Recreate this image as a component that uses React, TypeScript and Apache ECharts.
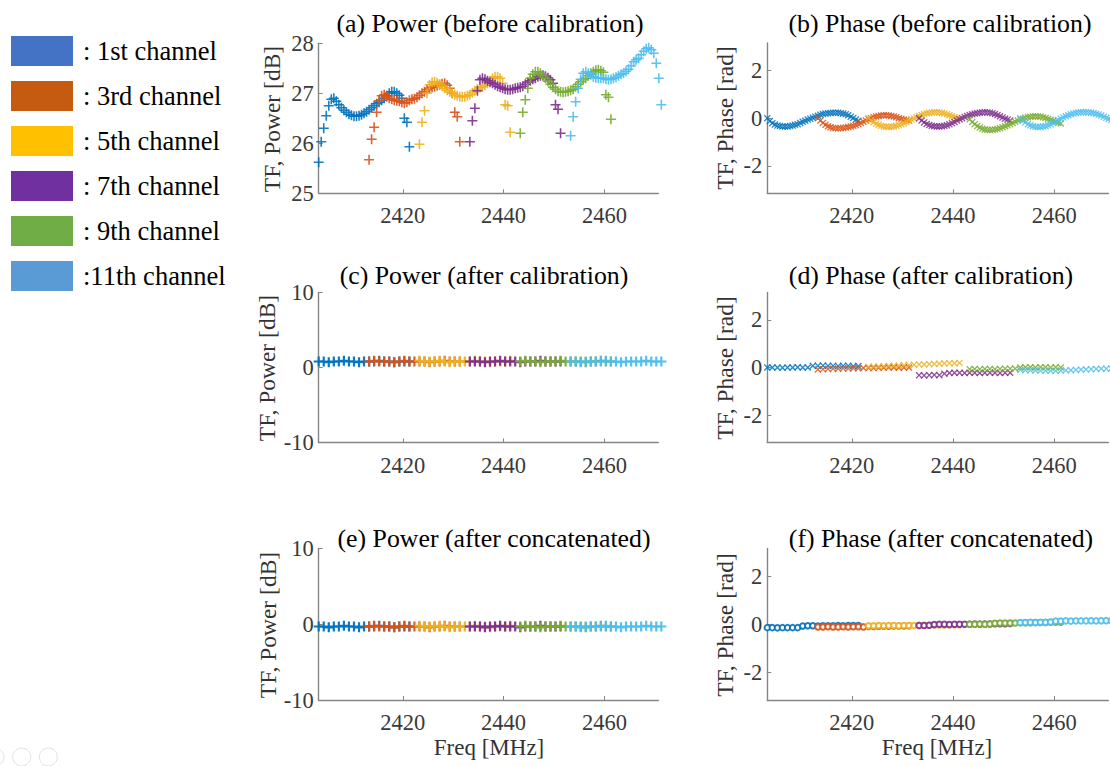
import React, { useEffect, useRef } from "react";
import * as echarts from "echarts";

const FONT = "'Liberation Serif', 'Times New Roman', serif";

const CHANNELS = [": 1st channel", ": 3rd channel", ": 5th channel", ": 7th channel", ": 9th channel", ":11th channel"];
const CH_START = [2403.3, 2413.3, 2423.3, 2433.3, 2443.3, 2453.3];
const FINE_STEP = 0.5;
const COARSE_STEP = 1;
const DATA_COLORS = ["#0072BD", "#D95319", "#EDB120", "#7E2F8E", "#77AC30", "#4DBEEE"];
const LEGEND_COLORS = ["#4472C4", "#C55A11", "#FFC000", "#7030A0", "#70AD47", "#5B9BD5"];
const FREQ_RANGE = [2403.3, 2470.7];
const FREQ_TICKS = [2420, 2440, 2460];
const PHASE_TICKS = [-2, 0, 2];

const PANEL_TITLES = [
  "(a) Power (before calibration)",
  "(b) Phase (before calibration)",
  "(c) Power (after calibration)",
  "(d) Phase (after calibration)",
  "(e) Power (after concatenated)",
  "(f) Phase (after concatenated)",
];
const Y_NAMES = ["TF, Power [dB]", "TF, Phase [rad]", "TF, Power [dB]", "TF, Phase [rad]", "TF, Power [dB]", "TF, Phase [rad]"];
const X_NAME = "Freq [MHz]";

// (a) power before calibration, 0.5 MHz step
const POWER_BEFORE = [
  [25.62, 26.03, 26.3, 26.55, 26.75, 26.88, 26.9, 26.84, 26.77, 26.71, 26.66, 26.62, 26.58, 26.56, 26.54, 26.54, 26.55, 26.57, 26.6, 26.63, 26.67, 26.71, 26.75, 26.79, 26.82, 26.86, 26.9, 26.95, 27.0, 27.03, 27.03, 27.0, 26.96, 26.9, 26.5, 26.42, 25.93],
  [25.67, 26.08, 26.32, 26.62, 26.85, 26.95, 26.97, 26.93, 26.9, 26.88, 26.86, 26.85, 26.84, 26.82, 26.8, 26.82, 26.86, 26.88, 26.89, 26.92, 26.96, 27.0, 27.03, 27.07, 27.1, 27.12, 27.13, 27.15, 27.17, 27.19, 27.2, 27.16, 27.1, 27.0, 26.62, 26.53, 26.03],
  [25.98, 26.42, 26.65, 27.0, 27.17, 27.22, 27.23, 27.21, 27.18, 27.14, 27.1, 27.06, 27.03, 27.0, 26.97, 26.95, 26.93, 26.93, 26.93, 26.95, 26.97, 27.01, 27.05, 27.08, 27.11, 27.13, 27.16, 27.2, 27.25, 27.3, 27.33, 27.33, 27.3, 27.2, 26.77, 26.75, 26.22],
  [26.03, 26.45, 26.7, 27.05, 27.27, 27.3, 27.28, 27.25, 27.22, 27.2, 27.17, 27.14, 27.12, 27.1, 27.08, 27.07, 27.07, 27.08, 27.1, 27.11, 27.12, 27.14, 27.18, 27.22, 27.25, 27.28, 27.3, 27.33, 27.35, 27.36, 27.34, 27.31, 27.27, 27.2, 26.77, 26.68, 26.2],
  [26.2, 26.62, 26.87, 27.1, 27.3, 27.38, 27.43, 27.43, 27.4, 27.35, 27.3, 27.24, 27.18, 27.12, 27.08, 27.04, 27.03, 27.02, 27.03, 27.04, 27.06, 27.08, 27.13, 27.18, 27.23, 27.27, 27.3, 27.35, 27.4, 27.43, 27.46, 27.47, 27.45, 27.42, 26.97, 26.92, 26.48],
  [26.15, 26.53, 26.83, 27.1, 27.28, 27.4, 27.43, 27.4, 27.37, 27.33, 27.31, 27.3, 27.3, 27.3, 27.28, 27.27, 27.28, 27.3, 27.32, 27.35, 27.38, 27.4, 27.44, 27.48, 27.55, 27.63, 27.67, 27.7, 27.77, 27.84, 27.89, 27.91, 27.87, 27.8, 27.6, 27.3, 26.77],
];

// (b) phase before calibration, 0.5 MHz step
const PHASE_BEFORE = [
  [0.0, -0.12, -0.21, -0.27, -0.31, -0.33, -0.35, -0.35, -0.35, -0.33, -0.31, -0.28, -0.25, -0.2, -0.15, -0.11, -0.06, -0.02, 0.02, 0.06, 0.1, 0.14, 0.17, 0.19, 0.21, 0.22, 0.23, 0.23, 0.23, 0.21, 0.19, 0.16, 0.12, 0.06, 0.01, -0.06, -0.11],
  [0.0, -0.1, -0.2, -0.28, -0.34, -0.38, -0.41, -0.42, -0.42, -0.42, -0.41, -0.39, -0.37, -0.35, -0.32, -0.29, -0.25, -0.2, -0.15, -0.1, -0.05, 0.0, 0.04, 0.07, 0.09, 0.11, 0.12, 0.12, 0.11, 0.09, 0.07, 0.04, 0.0, -0.03, -0.06, -0.08, -0.1],
  [0.0, -0.09, -0.17, -0.23, -0.28, -0.32, -0.35, -0.36, -0.37, -0.36, -0.35, -0.32, -0.29, -0.25, -0.21, -0.16, -0.11, -0.06, -0.01, 0.04, 0.09, 0.13, 0.17, 0.2, 0.22, 0.24, 0.25, 0.25, 0.24, 0.22, 0.19, 0.16, 0.12, 0.08, 0.04, 0.0, -0.03],
  [0.0, -0.1, -0.18, -0.24, -0.29, -0.32, -0.34, -0.35, -0.35, -0.34, -0.32, -0.3, -0.26, -0.21, -0.16, -0.1, -0.05, 0.0, 0.05, 0.09, 0.13, 0.16, 0.19, 0.21, 0.23, 0.24, 0.25, 0.24, 0.23, 0.2, 0.17, 0.13, 0.08, 0.03, -0.02, -0.06, -0.1],
  [-0.05, -0.16, -0.25, -0.33, -0.39, -0.44, -0.47, -0.49, -0.5, -0.49, -0.47, -0.45, -0.42, -0.38, -0.34, -0.3, -0.25, -0.2, -0.15, -0.1, -0.06, -0.02, 0.02, 0.04, 0.06, 0.07, 0.08, 0.07, 0.06, 0.04, 0.01, -0.03, -0.07, -0.11, -0.15, -0.19, -0.22],
  [0.0, -0.1, -0.18, -0.25, -0.3, -0.34, -0.36, -0.37, -0.37, -0.35, -0.33, -0.3, -0.26, -0.2, -0.14, -0.08, -0.02, 0.03, 0.08, 0.12, 0.16, 0.19, 0.22, 0.24, 0.25, 0.25, 0.25, 0.24, 0.23, 0.21, 0.18, 0.15, 0.11, 0.06, 0.02, -0.03, -0.07],
];

// (c) power after calibration, 1 MHz step
const POWER_CAL = [
  [0.8, 0.8, 0.7, 0.8, 0.8, 0.9, 0.8, 0.8, 0.7, 0.8, 0.8, 0.8, 0.9, 0.8, 0.8, 0.7, 0.8, 0.8, 0.8],
  [0.8, 0.9, 0.8, 0.8, 0.8, 0.7, 0.8, 0.9, 0.8, 0.8, 0.8, 0.8, 0.7, 0.8, 0.8, 0.9, 0.8, 0.8, 0.8],
  [0.9, 0.8, 0.8, 0.8, 0.9, 0.8, 0.7, 0.8, 0.8, 0.8, 0.8, 0.9, 0.8, 0.8, 0.7, 0.8, 0.8, 0.8, 0.9],
  [0.8, 0.8, 0.8, 0.7, 0.8, 0.8, 0.9, 0.8, 0.8, 0.8, 0.7, 0.8, 0.8, 0.8, 0.9, 0.8, 0.8, 0.8, 0.8],
  [0.8, 0.9, 0.8, 0.8, 0.7, 0.8, 0.8, 0.8, 0.9, 0.8, 0.8, 0.8, 0.8, 0.7, 0.8, 0.8, 0.9, 0.8, 0.8],
  [0.8, 0.8, 0.7, 0.8, 0.8, 0.8, 0.8, 0.9, 0.8, 0.8, 0.7, 0.8, 0.8, 0.8, 0.8, 0.9, 0.8, 0.8, 0.8],
];

// (d) phase after calibration, 1 MHz step
const PHASE_CAL = [
  [0.0, 0.0, 0.0, -0.01, 0.0, 0.0, 0.01, 0.0, 0.0, 0.07, 0.07, 0.08, 0.07, 0.07, 0.06, 0.07, 0.07, 0.06, 0.06],
  [-0.08, -0.07, -0.06, -0.05, -0.05, -0.04, -0.04, -0.03, -0.03, -0.02, -0.02, -0.02, -0.01, -0.01, 0.0, 0.0, -0.01, 0.0, 0.0],
  [0.02, 0.04, 0.04, 0.05, 0.07, 0.07, 0.08, 0.1, 0.1, 0.11, 0.13, 0.13, 0.14, 0.15, 0.16, 0.17, 0.18, 0.18, 0.19],
  [-0.32, -0.33, -0.32, -0.31, -0.32, -0.26, -0.23, -0.22, -0.22, -0.23, -0.22, -0.22, -0.23, -0.22, -0.22, -0.22, -0.23, -0.22, -0.22],
  [-0.07, -0.06, -0.07, -0.06, -0.06, -0.07, -0.06, -0.05, -0.05, -0.05, 0.0, 0.01, 0.01, 0.0, 0.01, 0.01, 0.0, 0.01, 0.0],
  [-0.1, -0.11, -0.12, -0.12, -0.13, -0.13, -0.14, -0.14, -0.13, -0.12, -0.11, -0.1, -0.09, -0.08, -0.07, -0.06, -0.05, -0.05, -0.04],
];

// (e) power after concatenation, 1 MHz step
const POWER_CONCAT = [
  [-0.3, -0.3, -0.4, -0.3, -0.3, -0.2, -0.3, -0.3, -0.4, -0.3, -0.3, -0.3, -0.2, -0.3, -0.3, -0.4, -0.3, -0.3, -0.3],
  [-0.3, -0.2, -0.3, -0.3, -0.3, -0.4, -0.3, -0.2, -0.3, -0.3, -0.3, -0.3, -0.4, -0.3, -0.3, -0.2, -0.3, -0.3, -0.3],
  [-0.2, -0.3, -0.3, -0.3, -0.2, -0.3, -0.4, -0.3, -0.3, -0.3, -0.3, -0.2, -0.3, -0.3, -0.4, -0.3, -0.3, -0.3, -0.2],
  [-0.3, -0.3, -0.3, -0.4, -0.3, -0.3, -0.2, -0.3, -0.3, -0.3, -0.4, -0.3, -0.3, -0.3, -0.2, -0.3, -0.3, -0.3, -0.3],
  [-0.3, -0.2, -0.3, -0.3, -0.4, -0.3, -0.3, -0.3, -0.2, -0.3, -0.3, -0.3, -0.3, -0.4, -0.3, -0.3, -0.2, -0.3, -0.3],
  [-0.3, -0.3, -0.4, -0.3, -0.3, -0.3, -0.3, -0.2, -0.3, -0.3, -0.4, -0.3, -0.3, -0.3, -0.3, -0.2, -0.3, -0.3, -0.3],
];

// (f) phase after concatenation, 1 MHz step
const PHASE_CONCAT = [
  [-0.14, -0.14, -0.15, -0.14, -0.14, -0.14, -0.14, -0.07, -0.06, -0.06, -0.07, -0.06, -0.06, -0.06, -0.05, -0.06, -0.05, -0.05, -0.05],
  [-0.11, -0.11, -0.1, -0.11, -0.11, -0.1, -0.11, -0.1, -0.1, -0.11, -0.09, -0.09, -0.08, -0.08, -0.08, -0.07, -0.07, -0.07, -0.06],
  [-0.06, -0.06, -0.05, -0.06, -0.05, -0.05, -0.06, -0.05, -0.05, -0.05, -0.04, -0.04, -0.04, -0.03, -0.03, -0.03, -0.02, -0.02, -0.02],
  [-0.05, -0.05, -0.04, -0.01, 0.0, 0.0, -0.01, 0.0, 0.0, 0.0, 0.0, 0.01, 0.0, 0.01, 0.01, 0.02, 0.02, 0.02, 0.03],
  [0.0, 0.0, 0.01, 0.0, 0.01, 0.04, 0.05, 0.05, 0.05, 0.05, 0.06, 0.06, 0.06, 0.07, 0.07, 0.07, 0.08, 0.08, 0.08],
  [0.07, 0.07, 0.08, 0.07, 0.08, 0.08, 0.09, 0.13, 0.13, 0.14, 0.13, 0.14, 0.14, 0.14, 0.15, 0.14, 0.15, 0.15, 0.15],
];

const PLUS = "path://M4.2,0H5.8V10H4.2ZM0,4.2H10V5.8H0Z";
const PLUS_BOLD = "path://M3.9,0H6.1V10H3.9ZM0,3.9H10V6.1H0Z";
const CROSS = "path://M0,1.3L1.3,0L5,3.7L8.7,0L10,1.3L6.3,5L10,8.7L8.7,10L5,6.3L1.3,10L0,8.7L3.7,5Z";

const GRIDS = [
  { left: 318.7, top: 43.3, width: 339.6, height: 150 },
  { left: 767.3, top: 43, width: 341, height: 150.3 },
  { left: 318.7, top: 292.5, width: 339.6, height: 150 },
  { left: 767.3, top: 292.5, width: 341, height: 150 },
  { left: 318.7, top: 548.5, width: 339.6, height: 151.5 },
  { left: 767.3, top: 548.5, width: 341, height: 151.5 },
];
const TITLE_POS = [[490, 23], [940, 23], [484, 275], [931, 275], [494, 538], [941, 538]];
const YNAME_POS = [[272, 119], [725, 118], [267, 368], [725, 368], [268, 625], [725, 625]];
const XNAME_POS = [[489, 747], [937, 747]];

const AXIS_COLOR = "#858585";
const LABEL_COLOR = "#3a3a3a";
const TICK_FONT = 22.5;

const plainNumber = (v: number) => String(v);

function makeX(gridIndex: number) {
  return {
    type: "value",
    gridIndex,
    min: FREQ_RANGE[0],
    max: FREQ_RANGE[1],
    axisLine: { show: true, onZero: false, lineStyle: { color: AXIS_COLOR, width: 1.4 } },
    axisTick: { show: true, inside: true, length: 4, customValues: FREQ_TICKS, lineStyle: { color: AXIS_COLOR } },
    axisLabel: { customValues: FREQ_TICKS, formatter: plainNumber, margin: 11, fontFamily: FONT, fontSize: TICK_FONT, color: LABEL_COLOR },
    splitLine: { show: false },
  };
}

function makeYPower(gridIndex: number, min: number, max: number, interval: number) {
  return {
    type: "value",
    gridIndex,
    min,
    max,
    interval,
    axisLine: { show: true, onZero: false, lineStyle: { color: AXIS_COLOR, width: 1.4 } },
    axisTick: { show: true, inside: true, length: 4, lineStyle: { color: AXIS_COLOR } },
    axisLabel: { formatter: plainNumber, margin: 5, fontFamily: FONT, fontSize: TICK_FONT, color: LABEL_COLOR },
    splitLine: { show: false },
  };
}

function makeYPhase(gridIndex: number) {
  return {
    type: "value",
    gridIndex,
    min: -Math.PI,
    max: Math.PI,
    axisLine: { show: true, onZero: false, lineStyle: { color: AXIS_COLOR, width: 1.4 } },
    axisTick: { show: true, inside: true, length: 4, customValues: PHASE_TICKS, lineStyle: { color: AXIS_COLOR } },
    axisLabel: { customValues: PHASE_TICKS, formatter: plainNumber, margin: 5, fontFamily: FONT, fontSize: TICK_FONT, color: LABEL_COLOR },
    splitLine: { show: false },
  };
}

function makeSeries(panel: number, values: number[][], step: number, symbol: string, size: number, opacity: number) {
  return values.map((vals, ch) => ({
    type: "scatter",
    name: CHANNELS[ch],
    xAxisIndex: panel,
    yAxisIndex: panel,
    data: vals.map((v, i) => [CH_START[ch] + i * step, v]),
    symbol,
    symbolSize: size,
    itemStyle: symbol === "emptyCircle"
      ? { color: DATA_COLORS[ch], borderColor: DATA_COLORS[ch], borderWidth: 1, opacity }
      : { color: DATA_COLORS[ch], opacity },
    clip: false,
    silent: true,
  }));
}

export default function App() {
  const ref = useRef<HTMLDivElement>(null);

  useEffect(() => {
    if (!ref.current) return;
    const chart = echarts.init(ref.current, undefined, { renderer: "svg" });

    const graphic: any[] = [];
    PANEL_TITLES.forEach((t, i) => {
      graphic.push({
        type: "text",
        x: TITLE_POS[i][0],
        y: TITLE_POS[i][1],
        style: { text: t, fontFamily: FONT, fontSize: 25.8, fill: "#000", align: "center", verticalAlign: "middle" },
      });
    });
    Y_NAMES.forEach((t, i) => {
      graphic.push({
        type: "text",
        x: YNAME_POS[i][0],
        y: YNAME_POS[i][1],
        rotation: Math.PI / 2,
        style: { text: t, fontFamily: FONT, fontSize: 23.5, fill: "#333", align: "center", verticalAlign: "middle" },
      });
    });
    XNAME_POS.forEach((p) => {
      graphic.push({
        type: "text",
        x: p[0],
        y: p[1],
        style: { text: X_NAME, fontFamily: FONT, fontSize: 23, fill: "#333", align: "center", verticalAlign: "middle" },
      });
    });
    [[-5, 757], [21.7, 757], [48.3, 757]].forEach((c) => {
      graphic.push({
        type: "circle",
        shape: { cx: c[0], cy: c[1], r: 9 },
        style: { fill: "none", stroke: "#e2e2e2", lineWidth: 1 },
        silent: true,
      });
    });

    const option: any = {
      animation: false,
      backgroundColor: "#ffffff",
      grid: GRIDS.map((g) => ({ ...g, containLabel: false })),
      xAxis: [0, 1, 2, 3, 4, 5].map((i) => makeX(i)),
      yAxis: [
        makeYPower(0, 25, 28, 1),
        makeYPhase(1),
        makeYPower(2, -10, 10, 10),
        makeYPhase(3),
        makeYPower(4, -10, 10, 10),
        makeYPhase(5),
      ],
      legend: {
        orient: "vertical",
        left: 11,
        top: 36,
        padding: 0,
        itemWidth: 62,
        itemHeight: 30,
        itemGap: 15,
        icon: "rect",
        selectedMode: false,
        textStyle: { fontFamily: FONT, fontSize: 26.5, color: "#000", padding: [0, 0, 0, 5] },
        data: CHANNELS.map((n, i) => ({ name: n, itemStyle: { color: LEGEND_COLORS[i], opacity: 1, borderWidth: 0 } })),
      },
      series: [
        ...makeSeries(0, POWER_BEFORE, FINE_STEP, PLUS, 10, 0.9),
        ...makeSeries(1, PHASE_BEFORE, FINE_STEP, CROSS, 7, 0.85),
        ...makeSeries(2, POWER_CAL, COARSE_STEP, PLUS_BOLD, 10, 0.95),
        ...makeSeries(3, PHASE_CAL, COARSE_STEP, CROSS, 7, 0.85),
        ...makeSeries(4, POWER_CONCAT, COARSE_STEP, PLUS_BOLD, 10, 0.95),
        ...makeSeries(5, PHASE_CONCAT, COARSE_STEP, "emptyCircle", 5.5, 0.9),
      ],
      graphic,
    };
    chart.setOption(option);
    return () => chart.dispose();
  }, []);

  return <div ref={ref} style={{ position: "absolute", left: 0, top: 0, width: 1110, height: 766 }} />;
}
